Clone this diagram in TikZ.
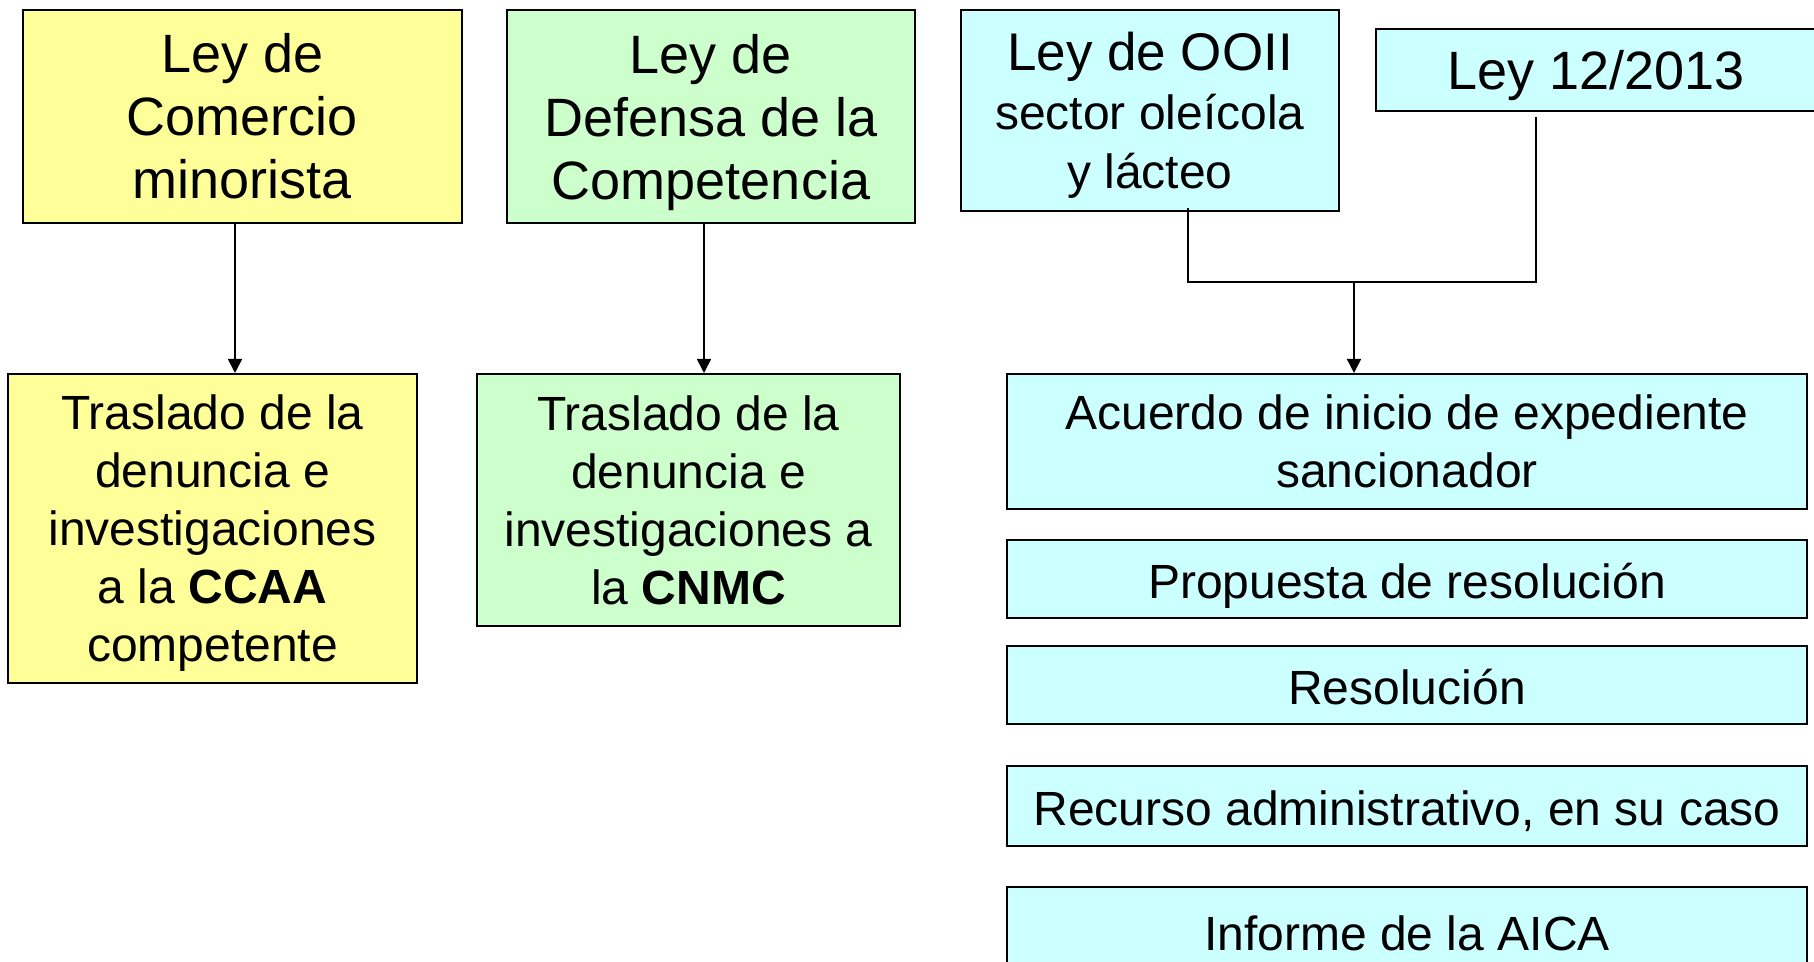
\documentclass[tikz,border=0pt]{standalone}
\usepackage{fontspec}
\setmainfont{Liberation Sans}
\usetikzlibrary{arrows.meta}
\definecolor{amarillo}{HTML}{FFFF99}
\definecolor{verde}{HTML}{CCFFCC}
\definecolor{celeste}{HTML}{CCFFFF}

\begin{document}
\begin{tikzpicture}[x=0.5pt,y=-0.5pt,
	caja/.style={rectangle,draw,line width=1pt,inner sep=0pt,align=center},
	grande/.style={font=\fontsize{27}{31.5}\selectfont},
	normal/.style={font=\fontsize{24}{29}\selectfont},
	linea/.style={text height=#1,text depth=0pt},
	flecha/.style={-{Triangle[length=7pt,width=7pt]},line width=0.8pt}]
	\useasboundingbox (0,0) rectangle (1814,962);
	% leyes
	\node[caja,grande,fill=amarillo,minimum width=219.5pt,minimum height=106.5pt] (comercio) at (242.5,116.5) {Ley de\\Comercio\\minorista};
	\node[caja,grande,text depth=0pt,fill=verde,minimum width=204pt,minimum height=106.5pt] (defensa) at (711,116.5) {Ley de\\Defensa de la\\Competencia};
	\node[caja,text depth=0pt,fill=celeste,minimum width=189pt,minimum height=100.5pt,font=\fontsize{24}{29.5}\selectfont] (ooii) at (1150,110.5) {{\fontsize{26.5}{29.5}\selectfont Ley de OOII}\\sector oleícola\\y lácteo};
	\node[caja,grande,linea=19.5pt,fill=celeste,minimum width=220pt,minimum height=41pt] (ley12) at (1596,70) {Ley 12/2013};
	% traslados
	\node[caja,normal,text depth=0pt,fill=amarillo,minimum width=204.5pt,minimum height=154.5pt] (ccaa) at (212.5,528.5) {Traslado de la\\denuncia e\\investigaciones\\a la \textbf{CCAA}\\competente};
	\node[caja,normal,fill=verde,minimum width=211.5pt,minimum height=126pt] (cnmc) at (688.5,500) {Traslado de la\\denuncia e\\investigaciones a\\la \textbf{CNMC}};
	% procedimiento
	\node[caja,normal,fill=celeste,minimum width=400pt,minimum height=67.5pt] (acuerdo) at (1407,441.5) {Acuerdo de inicio de expediente\\sancionador};
	\node[caja,normal,linea=19pt,fill=celeste,minimum width=400pt,minimum height=39pt] (propuesta) at (1407,579) {Propuesta de resolución};
	\node[caja,normal,linea=19pt,fill=celeste,minimum width=400pt,minimum height=39pt] (resolucion) at (1407,685) {Resolución};
	\node[caja,normal,linea=19pt,fill=celeste,minimum width=400pt,minimum height=40pt] (recurso) at (1407,806) {Recurso administrativo, en su caso};
	\node[caja,normal,linea=19pt,fill=celeste,minimum width=400pt,minimum height=44pt] (informe) at (1407,931) {Informe de la AICA};
	% flechas
	\draw[flecha] ([xshift=-3.75pt]comercio.south) -- ([xshift=-3.75pt]comercio.south |- ccaa.north);
	\draw[flecha] ([xshift=-3.5pt]defensa.south) -- ([xshift=-3.5pt]defensa.south |- cnmc.north);
	\coordinate (union) at (1354,282);
	\draw[line width=0.8pt] ([xshift=19pt,yshift=2pt]ooii.south) |- (union);
	\draw[line width=0.8pt] ([xshift=-30pt,yshift=-2.5pt]ley12.south) |- (union);
	\draw[flecha] (union) -- (union |- acuerdo.north);
\end{tikzpicture}
\end{document}
